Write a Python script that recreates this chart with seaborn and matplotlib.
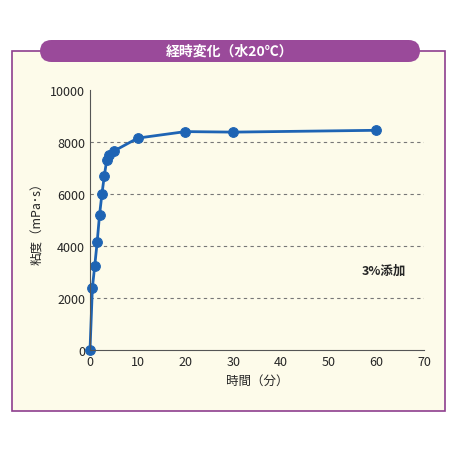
import matplotlib
matplotlib.use("Agg")
import matplotlib.pyplot as plt
import seaborn as sns
from matplotlib.patches import FancyBboxPatch, Rectangle

t = [0, 0.5, 1, 1.5, 2, 2.5, 3, 3.5, 4, 5, 10, 20, 30, 60]
visc = [0, 2400, 3250, 4150, 5200, 6000, 6700, 7300, 7500, 7650, 8150, 8400, 8380, 8450]
title = "経時変化（水20℃）"

sns.set_style("white")
plt.rcParams['font.family'] = ['Noto Sans CJK JP', 'DejaVu Sans']
bg = "#fdfbea"
fig = plt.figure(figsize=(4.6, 4.6), dpi=100, facecolor="white")
fig.patches.append(Rectangle((12/460, 1-412/460), 433/460, 360/460, transform=fig.transFigure,
                             facecolor=bg, edgecolor="#8e3e8e", lw=1.2, zorder=-5))
fig.patches.append(FancyBboxPatch((40/460, 1-63/460), 380/460, 22/460, transform=fig.transFigure,
                                  boxstyle="round,pad=0,rounding_size=0.025", facecolor="#9a4a9a",
                                  edgecolor="none", zorder=-4))
fig.text(230/460, 1-52/460, title, color="white", ha="center", va="center", fontsize=10, fontweight="bold")
ax = fig.add_axes([90/460, 1-351/460, 334/460, 260/460])
ax.set_facecolor(bg)
ax.patch.set_alpha(0)
sns.lineplot(x=t, y=visc, ax=ax, color="#1e64b4", marker="o", markersize=7, lw=2,
             markeredgecolor="#1e64b4", clip_on=False)
ax.set_xlim(0, 70); ax.set_ylim(0, 10000)
ax.set_xticks(range(0, 71, 10)); ax.set_yticks(range(0, 10001, 2000))
for y in [2000, 4000, 6000, 8000]:
    ax.axhline(y, color="#777", ls=(0, (3, 3)), lw=0.8, zorder=0)
for s in ["top", "right"]:
    ax.spines[s].set_visible(False)
for s in ["left", "bottom"]:
    ax.spines[s].set_color("#555")
ax.tick_params(labelsize=9, length=0)
ax.set_xlabel("時間（分）", fontsize=9)
ax.set_ylabel("粘度（mPa･s）", fontsize=9)
ax.text(57, 3050, "3%添加", fontsize=9, fontweight="bold", ha="left", va="center")
fig.savefig("out.png", dpi=100, facecolor="white")
